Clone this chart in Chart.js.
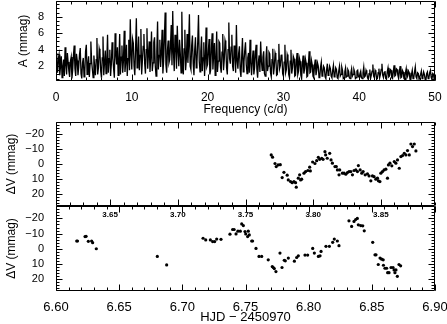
<!DOCTYPE html>
<html>
<head>
<meta charset="utf-8">
<script src="https://cdn.jsdelivr.net/npm/chart.js@4.4.1/dist/chart.umd.min.js"></script>
<style>
  body { margin: 0; background: #fff; }
  #wrap { position: relative; width: 447px; height: 324px; }
  canvas { position: absolute; left: 0; }
</style>
</head>
<body>
<div id="wrap">
  <canvas id="spec" style="top:0px" width="447" height="118"></canvas>
  <canvas id="lc1" style="top:121px" width="447" height="101"></canvas>
  <canvas id="lc2" style="top:206px" width="447" height="118"></canvas>
</div>
<script>
// amplitude spectrum, sampled every FREQ_STEP c/d from 0 to 50
const FREQ_STEP = 0.1;
const amp = [
  3.6,2.1,1.2,2.9,3.4,0.9,2.0,3.2,0.6,1.9, 2.8,0.8,4.3,2.2,1.0,3.6,2.5,1.4,0.7,2.6,
  3.1,0.5,1.5,3.3,4.5,1.7,0.8,3.5,2.7,0.9, 1.9,3.4,4.2,1.1,0.5,2.4,3.0,0.7,1.3,3.8,
  4.6,1.0,2.1,3.2,0.7,2.3,5.0,2.6,1.6,0.6,
  3.3,1.9,0.9,2.8,5.4,1.0,1.8,4.1,3.6,1.4, 0.6,3.0,5.6,0.9,2.4,3.9,1.1,2.5,5.8,1.2,
  2.9,4.0,0.8,2.2,4.9,3.0,1.7,0.6,6.0,3.5, 2.2,4.3,0.9,2.6,5.9,1.0,3.1,4.5,1.2,2.7,
  6.3,1.3,2.5,4.6,0.8,2.9,5.2,1.5,7.7,3.4,
  1.6,5.3,4.8,2.0,0.9,4.2,7.8,1.8,3.0,5.6, 1.5,3.3,6.5,1.0,2.7,4.4,5.9,2.3,1.1,4.0,
  6.6,1.7,3.5,5.0,1.3,3.1,6.2,1.4,2.4,4.9, 5.5,2.0,0.8,3.8,7.4,1.6,3.3,5.2,1.9,3.6,
  6.4,1.1,2.6,5.4,8.5,2.2,1.2,3.9,5.1,2.4,
  2.8,4.4,7.0,2.1,8.7,3.6,1.4,5.8,4.6,1.7, 6.9,3.9,2.0,5.2,3.5,1.2,8.6,2.7,1.0,4.1,
  6.4,1.5,2.9,5.9,2.4,4.7,8.3,2.0,1.6,4.5, 5.7,2.3,0.9,4.0,5.5,1.8,2.5,5.0,8.2,2.6,
  1.3,3.8,5.6,1.4,3.0,4.9,0.8,2.8,6.7,1.9,
  2.2,3.9,5.3,1.0,1.5,4.1,6.0,1.6,3.4,4.8, 0.9,2.7,6.2,1.3,2.6,5.0,4.8,1.9,1.2,3.7,
  5.9,1.5,2.8,5.1,4.6,1.8,1.0,4.0,7.3,2.9, 2.3,4.3,5.8,2.0,1.4,4.5,3.7,1.2,7.0,2.6,
  1.7,3.6,4.4,1.5,0.7,3.2,5.4,1.3,2.5,3.9,
  4.9,2.2,1.1,3.0,3.6,1.2,5.2,2.4,0.9,2.7, 3.9,1.0,1.8,3.4,4.6,1.6,0.6,2.5,3.3,1.3,
  5.0,2.6,1.5,3.1,3.8,1.1,0.8,2.9,4.4,1.4, 2.0,3.7,3.5,1.2,0.7,2.8,4.1,1.0,1.9,3.6,
  3.2,0.9,1.0,2.7,4.7,1.7,2.1,3.3,3.4,1.1,
  0.8,2.5,4.6,1.2,1.6,3.4,3.0,1.0,0.6,2.6, 4.0,1.1,1.8,3.2,2.9,0.8,0.9,2.4,3.6,1.0,
  1.4,3.0,2.6,0.9,0.5,2.2,3.3,1.1,1.7,2.9, 2.4,0.7,0.8,2.3,3.8,1.2,1.3,2.7,2.2,0.8,
  0.6,2.0,2.8,0.9,1.5,2.4,2.0,0.6,0.7,1.9,
  2.5,0.8,1.1,2.0,1.8,0.7,0.5,1.6,2.3,0.9, 1.2,2.0,1.7,0.8,0.6,1.5,2.1,0.7,0.9,1.8,
  1.6,0.6,0.5,1.4,2.0,0.8,1.0,1.9,1.5,0.5, 0.6,1.3,1.8,0.7,0.8,1.6,1.4,0.6,0.5,1.2,
  1.7,0.8,1.0,1.6,1.3,0.5,0.6,1.4,1.5,0.7,
  0.7,1.1,1.4,0.6,0.5,1.2,1.9,0.7,0.8,1.5, 1.2,0.6,0.4,1.1,1.6,0.5,0.9,1.4,2.2,0.8,
  0.6,1.5,1.3,0.4,0.5,1.2,1.7,0.6,1.0,1.6, 2.3,0.9,0.6,1.2,1.4,0.5,0.4,1.3,1.8,0.7,
  0.8,1.6,1.5,0.6,0.5,1.3,2.1,0.8,0.9,1.7,
  1.6,0.9,0.5,1.3,2.0,0.6,0.7,1.5,1.3,0.5, 0.4,1.2,1.7,0.6,0.8,1.4,1.2,0.4,0.3,1.0,
  1.5,0.5,0.6,1.3,1.9,0.7,0.5,1.2,1.1,0.4, 0.4,1.0,1.4,0.5,0.7,1.3,1.0,0.4,0.3,1.1,
  1.3,0.5,0.6,1.2,1.5,0.6,0.4,1.1,1.0,0.3, 0.6
];

// first night (HJD - 2450970 = 3.x)
const lc1Time = [
  3.7690,3.7700,3.7718,3.7727,3.7741,3.7757,3.7771,3.7784,3.7808,3.7816,
  3.7833,3.7845,3.7858,3.7870,3.7875,3.7890,3.7900,3.7907,3.7915,3.7932,
  3.7944,3.7961,3.7974,3.7979,3.7996,3.8013,3.8026,3.8038,3.8048,3.8063,
  3.8073,3.8087,3.8092,3.8104,3.8122,3.8132,3.8142,3.8161,3.8171,3.8179,
  3.8191,3.8196,3.8216,3.8228,3.8241,3.8253,3.8265,3.8278,3.8290,3.8302,
  3.8315,3.8327,3.8334,3.8347,3.8359,3.8369,3.8384,3.8401,3.8413,3.8426,
  3.8438,3.8450,3.8463,3.8475,3.8482,3.8493,3.8500,3.8512,3.8524,3.8537,
  3.8549,3.8556,3.8567,3.8581,3.8599,3.8611,3.8623,3.8636,3.8648,3.8660,
  3.8673,3.8685,3.8697,3.8710,3.8722,3.8734,3.8747,3.8759
];
const lc1Mag = [
  -6.2,-4.7,-0.5,1.6,0.5,0.3,8.9,5.4,7.3,10.5,
  11.6,12.3,11.6,12.3,15.3,9.3,7.1,10.5,10.0,6.0,
  4.9,4.2,2.0,4.5,-1.5,-0.5,-2.4,-4.6,-3.3,-4.0,
  -3.3,-8.4,-6.2,-4.0,-7.3,-2.9,-0.7,1.6,1.6,3.8,
  7.1,3.8,6.0,6.0,6.7,5.6,4.9,4.9,7.1,4.2,
  3.8,4.9,0.9,3.8,6.0,4.9,7.1,6.5,7.8,11.1,
  7.8,8.3,10.0,9.3,11.1,11.6,6.0,4.9,3.8,3.3,
  9.3,0.5,-0.7,1.1,-1.8,-0.7,-2.9,2.7,-5.1,-5.8,
  -7.3,-6.2,-9.1,-6.2,-13.5,-11.8,-13.5,-8.9
];

// second night (HJD - 2450970 = 6.x)
const lc2Time = [
  6.6164,6.6170,6.6230,6.6238,6.6256,6.6282,6.6290,6.6319,6.6802,6.6876,
  6.7164,6.7185,6.7222,6.7240,6.7256,6.7272,6.7306,6.7377,6.7398,6.7410,
  6.7425,6.7440,6.7459,6.7470,6.7483,6.7496,6.7502,6.7517,6.7522,6.7530,
  6.7549,6.7556,6.7583,6.7607,6.7628,6.7680,6.7712,6.7720,6.7728,6.7741,
  6.7773,6.7789,6.7807,6.7815,6.7839,6.7887,6.7905,6.7918,6.7971,6.7992,
  6.8032,6.8045,6.8077,6.8090,6.8098,6.8137,6.8164,6.8190,6.8203,6.8227,
  6.8240,6.8319,6.8340,6.8359,6.8372,6.8385,6.8393,6.8412,6.8428,6.8440,
  6.8507,6.8525,6.8533,6.8551,6.8565,6.8578,6.8590,6.8592,6.8604,6.8617,
  6.8625,6.8636,6.8652,6.8668,6.8676,6.8683,6.8691,6.8702,6.8715,6.8728
];
const lc2Mag = [
  -5.1,-5.1,-8.0,-8.2,-4.9,-5.1,-4.0,0.0,5.1,10.7,
  -6.9,-5.8,-5.8,-4.7,-4.7,-6.4,-6.2,-9.6,-12.7,-12.7,
  -9.8,-11.6,-11.6,-16.4,-15.3,-11.3,-9.8,-8.0,-11.6,-9.1,
  -5.1,-5.1,-0.2,5.1,5.1,7.3,11.8,12.4,13.1,15.1,
  2.9,12.4,7.6,8.0,6.2,8.2,5.8,4.7,4.2,4.2,
  -0.2,2.9,5.1,4.7,1.8,-1.6,-1.6,-4.2,-6.4,-5.1,
  -2.0,-18.4,-14.7,-18.0,-19.3,-20.0,-15.8,-15.3,-15.1,-11.8,
  -4.2,4.0,4.0,10.4,6.2,6.9,7.3,10.9,12.9,12.9,
  15.8,15.8,12.4,12.4,14.0,15.8,14.0,18.2,10.4,11.3
];

// tick labels
const freqTicks = [0, 10, 20, 30, 40, 50];
const ampTicks = [2, 4, 6, 8];
const dvTicks = [-20, -10, 0, 10, 20];
const hjd1Ticks = [3.65, 3.70, 3.75, 3.80, 3.85];
const hjd2Ticks = [6.60, 6.65, 6.70, 6.75, 6.80, 6.85, 6.90];

const FONT = "'Liberation Sans', Arial, sans-serif";
Chart.defaults.font.family = FONT;
Chart.defaults.color = '#000';

function tickVals(min, max, step) {
  const out = [];
  for (let k = Math.ceil(min / step - 1e-6); k * step <= max + 1e-9; k++) out.push(k * step);
  return out;
}

// IDL style box with inward major/minor ticks on all sides
const idlFrame = {
  id: 'idlFrame',
  afterDraw(chart, args, o) {
    const { ctx, chartArea: a } = chart;
    const xs = chart.scales.x, ys = chart.scales.y;
    const L = a.left + 0.5, R = a.right - 0.5, T = a.top + 0.5, B = a.bottom - 0.5;
    ctx.save();
    ctx.strokeStyle = '#000';
    ctx.lineWidth = 1;
    ctx.beginPath();
    ctx.rect(L, T, R - L, B - T);
    [[o.xMinor, 3], [o.xMajor, 6]].forEach(([step, len]) => {
      tickVals(xs.min, xs.max, step).forEach(v => {
        const p = Math.round(xs.getPixelForValue(v)) + 0.5;
        ctx.moveTo(p, B); ctx.lineTo(p, B - len);
        ctx.moveTo(p, T); ctx.lineTo(p, T + len);
      });
    });
    [[o.yMinor, 3], [o.yMajor, 6]].forEach(([step, len]) => {
      tickVals(ys.min, ys.max, step).forEach(v => {
        const p = Math.round(ys.getPixelForValue(v)) + 0.5;
        ctx.moveTo(L, p); ctx.lineTo(L + len, p);
        ctx.moveTo(R, p); ctx.lineTo(R - len, p);
      });
    });
    ctx.stroke();
    ctx.restore();
  }
};

const noGrid = { display: false, drawTicks: false };
const noBorder = { display: false };
const dvLabel = v => (v < 0 ? '\u2212' + Math.abs(v) : String(v));
const setTicks = arr => scale => { scale.ticks = arr.map(v => ({ value: v })); };
const fixY = s => { s.width = 56; s.paddingTop = 0; s.paddingBottom = 0; };
const fixX = h => s => { s.height = h; s.paddingLeft = 0; s.paddingRight = 0; };

function yAxis(min, max, ticks, title, titlePad, reverse, fmt) {
  return {
    type: 'linear', min, max, reverse,
    afterBuildTicks: setTicks(ticks),
    afterFit: fixY,
    grid: noGrid, border: noBorder,
    ticks: { font: { size: 11 }, padding: 12, callback: fmt || (v => String(v)) },
    title: { display: true, text: title, font: { size: 12 }, padding: { top: titlePad, bottom: 0 } }
  };
}

// periodogram
new Chart(document.getElementById('spec'), {
  type: 'line',
  data: {
    datasets: [{
      data: amp.map((a, i) => ({ x: +(i * FREQ_STEP).toFixed(1), y: a })),
      borderColor: '#000', borderWidth: 1.3, pointRadius: 0, pointHoverRadius: 0, tension: 0
    }]
  },
  options: {
    responsive: false, animation: false, events: [],
    layout: { autoPadding: false, padding: { left: 0, right: 12, top: 1, bottom: 0 } },
    plugins: { legend: { display: false }, tooltip: { enabled: false },
      idlFrame: { xMinor: 2, xMajor: 10, yMinor: 0.5, yMajor: 2 } },
    scales: {
      x: {
        type: 'linear', min: 0, max: 50,
        afterBuildTicks: setTicks(freqTicks),
        afterFit: fixX(37),
        grid: noGrid, border: noBorder,
        ticks: { font: { size: 12 }, padding: 9, maxRotation: 0, autoSkip: false },
        title: { display: true, text: 'Frequency (c/d)', font: { size: 12 }, padding: { top: 0, bottom: 1 } }
      },
      y: yAxis(0.2, 9.9, ampTicks, 'A (mmag)', 16, false)
    }
  },
  plugins: [idlFrame]
});

function lcChart(id, time, mag, xmin, xmax, xTicks, xOpts, padTop) {
  return new Chart(document.getElementById(id), {
    type: 'scatter',
    data: {
      datasets: [{
        data: time.map((t, i) => ({ x: t, y: mag[i] })),
        pointRadius: 1.6, pointHoverRadius: 0, pointBackgroundColor: '#000', pointBorderWidth: 0
      }]
    },
    options: {
      responsive: false, animation: false, events: [],
      layout: { autoPadding: false, padding: { left: 0, right: 12, top: padTop, bottom: 0 } },
      plugins: { legend: { display: false }, tooltip: { enabled: false },
        idlFrame: { xMinor: 0.01, xMajor: 0.05, yMinor: 2, yMajor: 10 } },
      scales: {
        x: Object.assign({
          type: 'linear', min: xmin, max: xmax,
          afterBuildTicks: setTicks(xTicks),
          grid: noGrid, border: noBorder
        }, xOpts),
        y: yAxis(-28.2, 27.9, dvTicks, '\u0394V (mmag)', 4, true, dvLabel)
      }
    },
    plugins: [idlFrame]
  });
}

lcChart('lc1', lc1Time, lc1Mag, 3.61, 3.89, hjd1Ticks, {
  afterFit: fixX(16),
  ticks: { font: { size: 8, weight: 'bold' }, padding: 4, maxRotation: 0, autoSkip: false,
    callback: v => v.toFixed(2) }
}, 1);

lcChart('lc2', lc2Time, lc2Mag, 6.60, 6.90, hjd2Ticks, {
  afterFit: fixX(33),
  ticks: { font: { size: 13 }, padding: 9, maxRotation: 0, autoSkip: false,
    callback: v => v.toFixed(2) },
  title: { display: true, text: 'HJD \u2212 2450970', font: { size: 13, lineHeight: 1 }, padding: { top: 0, bottom: 0 } }
}, 0);
</script>
</body>
</html>
